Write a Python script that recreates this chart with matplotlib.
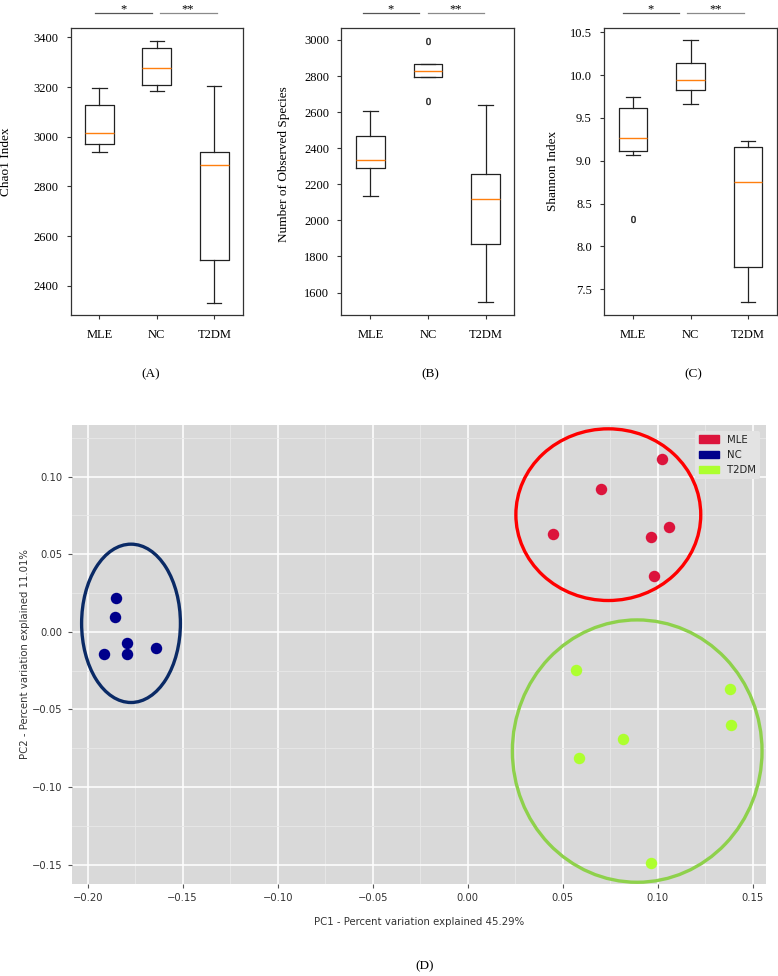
import numpy as np
import matplotlib.pyplot as plt
from matplotlib.patches import Ellipse, Patch
from matplotlib.ticker import MultipleLocator

groups = ['MLE', 'NC', 'T2DM']

# alpha diversity box stats: whisker low, q1, median, q3, whisker high
chao1_lo = [2940, 3185, 2333]
chao1_q1 = [2971, 3209, 2505]
chao1_med = [3016, 3275, 2885]
chao1_q3 = [3129, 3358, 2937]
chao1_hi = [3196, 3386, 3203]
chao1_fliers = [[], [], []]

obs_lo = [2137, 2795, 1547]
obs_q1 = [2289, 2795, 1870]
obs_med = [2334, 2830, 2118]
obs_q3 = [2468, 2868, 2259]
obs_hi = [2605, 2868, 2638]
obs_fliers = [[], [2996, 2660], []]

shannon_lo = [9.068, 9.66, 7.35]
shannon_q1 = [9.11, 9.823, 7.76]
shannon_med = [9.266, 9.943, 8.749]
shannon_q3 = [9.62, 10.14, 9.158]
shannon_hi = [9.745, 10.41, 9.235]
shannon_fliers = [[8.32], [], []]

sig_marks = ['*', '**']

# PCA scores
mle_pc1 = [0.1024, 0.0700, 0.0449, 0.0963, 0.1059, 0.0982]
mle_pc2 = [0.1113, 0.0919, 0.0631, 0.0614, 0.0677, 0.0359]
nc_pc1 = [-0.1853, -0.1855, -0.1792, -0.1914, -0.1793, -0.1639]
nc_pc2 = [0.0219, 0.0099, -0.0073, -0.0142, -0.0142, -0.0101]
t2dm_pc1 = [0.0570, 0.1382, 0.1387, 0.0817, 0.0584, 0.0966]
t2dm_pc2 = [-0.0247, -0.0365, -0.0599, -0.0689, -0.0814, -0.1486]

# group ellipses: centre x, centre y, width, height
ell_cx = [0.074, -0.1772, 0.0892]
ell_cy = [0.0755, 0.0055, -0.0768]
ell_w = [0.0973, 0.052, 0.1314]
ell_h = [0.1106, 0.102, 0.169]

pt_colors = ['#DC143C', '#00008B', '#ADFF2F']
ell_colors = ['#FF0000', '#0A2A66', '#8ED14B']

serif = ['Liberation Serif', 'DejaVu Serif']

fig = plt.figure(figsize=(7.78, 9.76), dpi=100)


def make_stats(lo, q1, med, q3, hi, fl):
    return [dict(whislo=lo[i], q1=q1[i], med=med[i], q3=q3[i], whishi=hi[i],
                 fliers=fl[i], label=groups[i]) for i in range(3)]


def box_panel(rect, stats, ylim, ylabel, lab_xy, spans, tag, tag_x):
    ax = fig.add_axes(rect)
    ax.bxp(stats, positions=[1, 2, 3], widths=0.5,
           boxprops=dict(color='#222', lw=0.9),
           whiskerprops=dict(color='#222', lw=0.9),
           capprops=dict(color='#222', lw=0.9),
           medianprops=dict(color='#ff7f0e', lw=1.0),
           flierprops=dict(marker='$0$', markersize=5, markeredgewidth=0.3,
                           markerfacecolor='#222', markeredgecolor='#222'))
    ax.set_xlim(0.5, 3.5)
    ax.set_ylim(*ylim)
    for s in ax.spines.values():
        s.set_color('#333')
        s.set_linewidth(0.9)
    ax.tick_params(axis='both', labelsize=9, length=3, width=0.8, color='#333')
    ax.tick_params(axis='x', pad=7)
    ax.tick_params(axis='y', pad=6)
    for t in ax.get_xticklabels() + ax.get_yticklabels():
        t.set_family(serif)
    ax.set_ylabel(ylabel, fontsize=9.5, family=serif)
    ax.yaxis.set_label_coords(*lab_xy)
    ax.yaxis.label.set_verticalalignment('center')
    tr = ax.get_xaxis_transform()
    line_cols = ['#555', '#8a8a8a']
    for (x0, x1), mark, c in zip(spans, sig_marks, line_cols):
        ax.plot([x0, x1], [1.05, 1.05], color=c, lw=0.9, transform=tr,
                clip_on=False)
        ax.text((x0 + x1) / 2, 1.053, mark, transform=tr, ha='center',
                va='baseline', fontsize=9, family=serif)
    fig.text(tag_x, 1 - 374 / 976, tag, ha='center', va='center',
             fontsize=9.5, family=serif)
    return ax


box_panel([0.0909, 0.6773, 0.2214, 0.2943],
          make_stats(chao1_lo, chao1_q1, chao1_med, chao1_q3, chao1_hi, chao1_fliers),
          (2283, 3439), 'Chao1 Index', (-0.375, 0.533),
          [(0.93, 1.91), (2.05, 3.04)], '(A)', 151 / 778)
box_panel([0.4389, 0.6773, 0.2224, 0.2943],
          make_stats(obs_lo, obs_q1, obs_med, obs_q3, obs_hi, obs_fliers),
          (1476, 3068), 'Number of Observed Species', (-0.332, 0.526),
          [(0.87, 1.84), (2.0, 2.97)], '(B)', 430 / 778)
box_panel([0.7767, 0.6773, 0.2217, 0.2943],
          make_stats(shannon_lo, shannon_q1, shannon_med, shannon_q3, shannon_hi, shannon_fliers),
          (7.2, 10.554), 'Shannon Index', (-0.297, 0.50),
          [(0.82, 1.80), (1.94, 2.93)], '(C)', 693 / 778)

# PCA panel
ax = fig.add_axes([0.0922, 0.0943, 0.8924, 0.4703])
ax.set_facecolor('#d9d9d9')
for s in ax.spines.values():
    s.set_visible(False)
ax.set_axisbelow(True)
ax.xaxis.set_major_locator(MultipleLocator(0.05))
ax.xaxis.set_minor_locator(MultipleLocator(0.025))
ax.yaxis.set_major_locator(MultipleLocator(0.05))
ax.yaxis.set_minor_locator(MultipleLocator(0.025))
ax.grid(which='major', color='white', lw=1.1)
ax.grid(which='minor', color='#e8e8e8', lw=0.6)
ax.tick_params(which='major', labelsize=7.2, length=3, width=0.8,
               color='#555', labelcolor='#333')
ax.tick_params(which='minor', length=0)

xs = [mle_pc1, nc_pc1, t2dm_pc1]
ys = [mle_pc2, nc_pc2, t2dm_pc2]
for i in range(3):
    ax.add_patch(Ellipse((ell_cx[i], ell_cy[i]), ell_w[i], ell_h[i],
                         fill=False, ec=ell_colors[i], lw=2.4, zorder=2))
    ax.scatter(xs[i], ys[i], s=68, color=pt_colors[i], lw=0, zorder=3)

ax.set_xlim(-0.2084, 0.157)
ax.set_ylim(-0.1624, 0.1333)
ax.set_xlabel('PC1 - Percent variation explained 45.29%', fontsize=7.3, color='#333')
ax.set_ylabel('PC2 - Percent variation explained 11.01%', fontsize=7.3, color='#333')
ax.xaxis.set_label_coords(0.5, -0.083)
ax.xaxis.label.set_verticalalignment('center')
ax.yaxis.set_label_coords(-0.0668, 0.5)
ax.yaxis.label.set_verticalalignment('center')

handles = [Patch(color=c, label=g) for c, g in zip(pt_colors, groups)]
leg = ax.legend(handles=handles, loc='upper right', fontsize=7.3,
                handlelength=2.0, handleheight=0.7, borderaxespad=0.55,
                frameon=True, facecolor='#e3e3e3', edgecolor='none',
                framealpha=1, labelcolor='#222')

fig.text(425 / 778, 1 - 966 / 976, '(D)', ha='center', va='center',
         fontsize=9.5, family=serif)

fig.savefig('out.png', dpi=100)
